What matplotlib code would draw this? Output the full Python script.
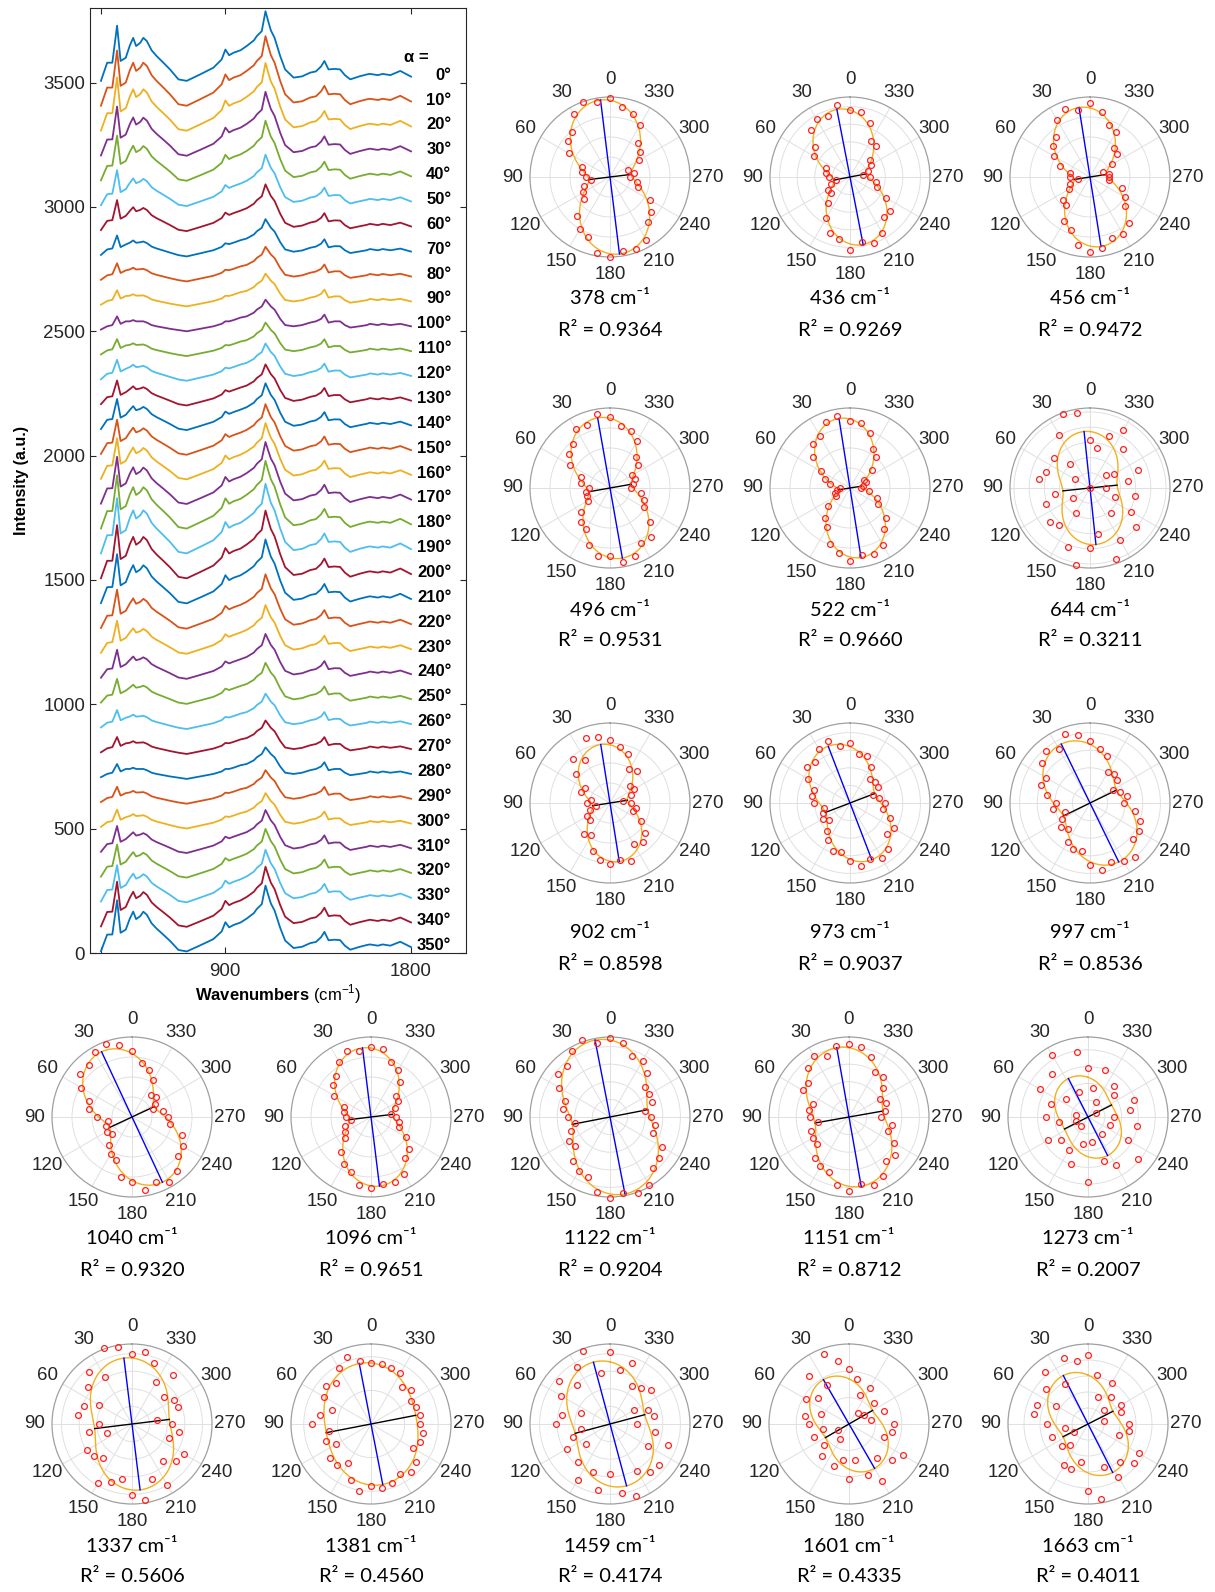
import numpy as np
import matplotlib
matplotlib.use('Agg')
import matplotlib.pyplot as plt

W, H, DPI = 1215, 1592, 100
plt.rcParams['font.family'] = ['Liberation Sans', 'DejaVu Sans']
plt.rcParams['mathtext.fontset'] = 'custom'
plt.rcParams['mathtext.rm'] = 'Liberation Sans'
plt.rcParams['mathtext.bf'] = 'Liberation Sans:bold'

# ---------------- spectra data ----------------
wavenumbers = [300, 330, 355, 378, 395, 420, 440, 456, 470, 490, 505, 522, 545, 569, 602, 634,
               675, 715, 780, 844, 884, 902, 920, 941, 975, 1005, 1040, 1054, 1078, 1096, 1108,
               1122, 1140, 1167, 1191, 1232, 1273, 1312, 1340, 1365, 1381, 1401, 1430, 1457,
               1480, 1506, 1550, 1587, 1601, 1640, 1663, 1700, 1748, 1800]
background = [-13, 0, 5, 40, 10, 20, 20, 25, 20, 20, 20, 15, 5, 0, -5, -10,
              -15, -20, -10, 0, 10, 20, 20, 25, 35, 40, 55, 67, 80, 107, 95,
              80, 67, 30, 5, 0, 5, 15, 20, 30, 47, 15, 20, 20,
              5, -5, 0, 5, 10, 5, 10, 5, 10, 0]
polarized = [0, 60, 55, 169, 57, 60, 110, 135, 107, 120, 140, 132, 105, 87, 65, 43,
             8, 7, 23, 40, 63, 93, 70, 75, 75, 87, 95, 100, 107, 160, 135,
             110, 93, 57, 28, 0, 0, 5, 5, 15, 20, 18, 15, 13,
             5, -2, 5, 8, 5, 5, 5, 5, 17, 4]
alpha_deg = list(range(0, 360, 10))
pol_amp = [1.0, 1.0, 0.95, 0.85, 0.75, 0.52, 0.4, 0.15, 0.08, 0.03, 0.0, 0.05,
           0.15, 0.25, 0.4, 0.5, 0.65, 0.8, 0.95, 1.0, 0.95, 0.85, 0.6, 0.45,
           0.35, 0.25, 0.1, 0.05, 0.0, 0.05, 0.1, 0.3, 0.45, 0.55, 0.75, 0.9]
matlab_colors = ['#0072BD', '#D95319', '#EDB120', '#7E2F8E', '#77AC30', '#4DBEEE', '#A2142F']

# ---------------- polar data ----------------
peak_labels = ['378', '436', '456', '496', '522', '644', '902', '973', '997',
               '1040', '1096', '1122', '1151', '1273', '1337', '1381', '1459', '1601', '1663']
r_squared = ['0.9364', '0.9269', '0.9472', '0.9531', '0.9660', '0.3211', '0.8598', '0.9037', '0.8536',
             '0.9320', '0.9651', '0.9204', '0.8712', '0.2007', '0.5606', '0.4560', '0.4174', '0.4335', '0.4011']
fit_phi = [7, 11, 9, 10, 9, 6, 9, 21, 26, 25, 7, 11, 10, 27, 7, 11, 15, 30, 27]
fit_major = [0.97, 0.86, 0.88, 0.89, 0.88, 0.71, 0.74, 0.76, 0.82, 0.9, 0.87, 0.98, 0.88, 0.54, 0.83, 0.77, 0.8, 0.64, 0.68]
fit_minor = [0.265, 0.2, 0.2, 0.27, 0.14, 0.34, 0.22, 0.33, 0.37, 0.31, 0.27, 0.48, 0.43, 0.33, 0.47, 0.57, 0.45, 0.34, 0.35]
ring_step = [0.25, 0.22, 0.25, 0.25, 0.25, 0.19, 0.25, 0.22, 0.22, 0.25, 0.25, 0.22, 0.22, 0.21, 0.22, 0.42, 0.22, 0.33, 0.2]
resid = [
 [0.03,-0.02,0.06,0.04,-0.03,0.05,0.07,-0.04,0.03,0.02,-0.03,0.04,0.01,-0.05,0.05,0.03,-0.02,0.06,0.04,-0.03,0.02,0.05,-0.02,0.03,0.06,-0.04,0.02,-0.03,0.04,-0.06,0.05,0.02,-0.04,0.03,0.01,-0.02],
 [0.0,0.05,-0.03,0.04,0.06,-0.02,0.03,-0.05,0.02,0.04,-0.02,0.03,0.05,-0.04,-0.03,0.02,0.06,0.01,0.08,-0.03,0.04,0.02,-0.05,0.06,0.03,-0.02,0.05,0.03,-0.04,0.02,0.04,-0.03,0.05,-0.06,0.03,0.05],
 [0.06,-0.03,0.05,0.03,-0.04,0.02,0.05,0.04,-0.02,0.03,-0.05,0.04,0.02,0.06,-0.03,0.03,-0.02,0.05,0.07,0.02,-0.04,0.03,0.05,-0.02,0.04,0.06,-0.03,0.02,0.04,-0.05,0.03,0.06,-0.02,0.04,-0.03,0.02],
 [0.02,0.05,-0.03,0.04,-0.02,0.03,0.05,-0.04,0.02,-0.03,0.04,0.02,-0.02,0.05,0.03,-0.04,0.02,0.04,-0.02,0.05,0.03,-0.03,0.06,0.02,-0.04,0.03,0.05,-0.02,0.02,0.04,-0.03,0.03,-0.02,0.05,0.02,-0.03],
 [-0.02,0.04,0.02,-0.03,0.03,0.05,-0.02,0.02,0.04,-0.03,0.02,0.03,-0.04,0.02,0.03,-0.02,0.04,0.02,0.05,-0.03,0.02,0.04,-0.02,0.03,-0.03,0.04,0.02,-0.02,0.03,0.05,-0.03,0.02,0.04,-0.02,0.03,0.02],
 [-0.10,0.25,0.30,0.12,-0.20,0.05,-0.25,0.18,0.28,-0.34,0.10,0.22,-0.15,0.20,0.08,-0.22,0.15,0.30,0.05,-0.12,0.25,0.10,-0.18,0.22,0.12,-0.08,0.20,-0.15,0.14,0.28,-0.05,-0.20,0.12,0.25,0.05,-0.18],
 [0.06,0.10,0.15,-0.05,0.12,0.04,-0.06,0.05,-0.03,0.06,-0.04,0.03,0.05,-0.03,0.06,-0.07,0.02,0.04,0.03,-0.02,0.05,-0.08,0.03,0.06,0.02,-0.04,0.05,0.03,-0.05,0.04,0.06,-0.03,0.08,-0.05,0.04,0.02],
 [0.05,-0.02,0.06,0.03,-0.04,0.05,0.02,-0.03,0.04,0.06,-0.02,0.03,0.05,-0.04,0.02,0.04,0.06,-0.03,0.02,0.05,-0.02,0.04,0.03,-0.05,0.04,0.02,-0.03,0.05,0.02,-0.02,0.06,0.03,-0.04,0.02,0.05,-0.03],
 [0.04,0.08,0.10,-0.04,0.06,0.03,-0.05,0.05,0.02,-0.03,0.06,-0.04,0.03,0.07,-0.02,0.05,0.03,-0.06,0.04,0.06,-0.03,0.02,0.08,-0.05,0.03,0.06,0.04,-0.03,0.07,0.02,-0.04,0.05,0.03,-0.06,0.04,0.02],
 [0.03,0.05,0.07,0.04,-0.02,0.05,0.03,-0.03,0.04,0.02,-0.04,0.03,0.05,-0.02,0.04,0.03,-0.03,0.05,0.02,0.06,-0.03,0.04,0.02,-0.04,0.03,0.06,-0.02,0.04,0.05,-0.03,0.02,0.04,-0.05,0.03,0.02,-0.02],
 [0.02,-0.03,0.04,0.02,-0.02,0.03,0.04,-0.03,0.02,0.03,-0.02,0.04,0.02,-0.03,0.03,0.02,-0.02,0.04,0.03,-0.02,0.02,0.04,-0.03,0.03,0.02,-0.02,0.04,0.03,-0.02,0.02,0.03,-0.04,0.02,0.03,-0.02,0.04],
 [0.03,-0.04,0.05,0.02,-0.03,0.06,0.04,-0.02,0.05,0.03,-0.04,0.02,0.06,-0.03,0.04,0.02,-0.05,0.03,0.05,-0.02,0.04,0.06,-0.03,0.02,0.05,-0.04,0.03,0.02,-0.03,0.06,0.03,-0.02,0.04,0.05,-0.03,0.02],
 [0.04,0.02,-0.05,0.06,0.03,-0.03,0.05,-0.06,0.02,0.04,-0.04,0.06,0.03,-0.02,0.05,0.02,-0.04,0.03,0.06,-0.03,0.04,0.02,-0.05,0.05,0.03,-0.02,0.06,-0.04,0.03,0.05,-0.03,0.02,0.04,-0.05,0.03,0.06],
 [0.12,0.30,-0.20,0.35,0.18,-0.15,0.22,0.05,-0.25,0.15,0.02,-0.18,0.25,0.10,-0.22,0.08,0.20,-0.12,0.32,-0.20,0.05,0.15,-0.25,0.30,0.10,-0.15,0.22,-0.05,0.18,0.28,-0.22,0.08,0.15,-0.18,0.20,-0.10],
 [0.05,0.15,0.20,-0.10,0.12,0.05,-0.12,0.10,0.18,-0.06,0.08,-0.15,0.12,0.04,-0.08,0.15,0.02,-0.10,0.06,0.14,-0.08,0.10,-0.12,0.05,0.15,-0.05,0.10,0.02,-0.15,0.12,0.08,-0.06,0.16,-0.10,0.05,0.12],
 [0.0,0.03,0.12,0.06,-0.05,0.04,0.02,-0.10,0.05,0.16,-0.04,0.03,-0.08,0.05,0.02,-0.12,0.03,0.10,0.01,0.04,0.02,-0.03,0.06,0.04,-0.05,0.03,0.06,0.04,0.05,0.03,-0.02,0.04,-0.04,0.05,0.03,0.02],
 [0.12,-0.15,0.18,0.05,-0.10,0.15,0.08,-0.18,0.10,0.20,-0.08,0.04,0.15,-0.12,0.06,0.18,-0.05,0.10,-0.15,0.08,0.16,-0.10,0.04,0.12,-0.08,0.20,0.06,-0.14,0.10,0.05,-0.12,0.15,0.03,-0.08,0.12,-0.05],
 [0.12,0.20,0.30,-0.08,0.15,-0.10,0.05,-0.15,0.10,0.08,-0.05,0.12,-0.18,0.06,0.15,-0.20,0.10,-0.06,0.12,-0.15,0.05,0.18,-0.08,0.10,0.22,-0.05,0.08,0.15,-0.10,0.12,-0.12,0.06,-0.20,0.10,-0.08,0.05],
 [0.25,0.15,0.20,-0.10,0.18,0.05,-0.12,0.15,0.22,0.10,-0.08,0.12,-0.15,0.06,-0.05,0.14,0.10,-0.08,0.22,0.30,-0.10,0.08,-0.05,0.12,0.15,-0.12,0.05,0.10,-0.18,0.08,0.12,-0.10,0.04,0.15,-0.15,0.06],
]

fig = plt.figure(figsize=(W / DPI, H / DPI), dpi=DPI)

def px_rect(l, t, w, h):
    return [l / W, 1 - (t + h) / H, w / W, h / H]

# ---------------- spectra panel ----------------
TXT = '#262626'
ax = fig.add_axes(px_rect(90, 8, 376, 945))
wn = np.array(wavenumbers, float)
bg = np.array(background, float)
pol = np.array(polarized, float)
for i, a in enumerate(alpha_deg):
    offset = 3520 - 100 * i
    y = offset + bg + pol_amp[i] * pol
    ax.plot(wn, y, color=matlab_colors[i % 7], lw=1.3)
    ax.text(1995, offset + 10, f'{a}°', ha='right', va='center', fontsize=12,
            fontweight='bold', color='black')
ax.text(1824, 3600, 'α =', ha='center', va='center', fontsize=12, fontweight='bold')
ax.set_xlim(247, 2066)
ax.set_ylim(0, 3800)
ax.set_xticks([300, 900, 1800])
ax.set_xticklabels(['', '900', '1800'])
ax.set_yticks(range(0, 3501, 500))
ax.tick_params(direction='in', length=4, width=0.8, top=True, right=True,
               labelsize=13.5, colors=TXT, labelcolor=TXT)
ax.tick_params(axis='x', pad=7)
for s in ax.spines.values():
    s.set_color(TXT)
    s.set_linewidth(0.8)
ax.set_xlabel(r'$\mathbf{Wavenumbers}$ (cm$^{-1}$)', fontsize=12, labelpad=2)
ax.set_ylabel('Intensity (a.u.)', fontsize=11.5, fontweight='bold', labelpad=10)

# ---------------- polar panels ----------------
centers = []
for row_y in (177, 488, 803):
    for cx in (610, 850, 1090):
        centers.append((cx, row_y))
for row_y in (1117, 1424):
    for cx in (132, 371, 610, 849, 1088):
        centers.append((cx, row_y))

R = 80
theta_pts = np.deg2rad(alpha_deg)
theta_fine = np.linspace(0, 2 * np.pi, 721)
for k, (cx, cy) in enumerate(centers):
    pax = fig.add_axes(px_rect(cx - R, cy - R, 2 * R, 2 * R), projection='polar')
    pax.set_theta_zero_location('N')
    pax.set_theta_direction(1)
    phi = np.deg2rad(fit_phi[k])
    A, B = fit_major[k], fit_minor[k]
    fit = lambda t: B + (A - B) * np.cos(t - phi) ** 2
    pts = np.clip(fit(theta_pts) + np.array(resid[k]), 0, None)
    pax.plot(theta_fine, fit(theta_fine), color='#F2B01E', lw=1.0, zorder=3)
    pax.plot([phi, phi, phi + np.pi], [A, 0, A], color='#0000FF', lw=1.0, zorder=4)
    pax.plot([phi + np.pi / 2, phi, phi + 3 * np.pi / 2], [B, 0, B], color='black', lw=1.0, zorder=4)
    pax.plot(theta_pts, pts, 'o', mfc='none', mec='#FF2020', ms=4.2, mew=0.9, zorder=5, clip_on=False)
    pax.set_ylim(0, 1)
    pax.set_thetagrids(range(0, 360, 30), [str(a) for a in range(0, 360, 30)],
                       fontsize=13.5, color=TXT, family='Liberation Sans')
    pax.set_rticks(np.arange(ring_step[k], 0.97, ring_step[k]))
    pax.set_yticklabels([])
    pax.grid(color='#e0e0e0', lw=0.7)
    pax.spines['polar'].set_color('#a0a0a0')
    pax.spines['polar'].set_linewidth(0.9)
    pax.xaxis.set_tick_params(pad=2)
    pax.set_facecolor('white')
    dy = 130 if k in (6, 7, 8) else 122
    fig.text(cx / W, 1 - (cy + dy) / H, f'{peak_labels[k]} cm⁻¹', ha='center', va='center',
             fontsize=14.5, family=['Lato', 'DejaVu Sans'])
    fig.text(cx / W, 1 - (cy + dy + 31) / H, f'R² = {r_squared[k]}', ha='center', va='center',
             fontsize=14.5, family=['Lato', 'DejaVu Sans'])

fig.savefig('out.png', dpi=DPI)
